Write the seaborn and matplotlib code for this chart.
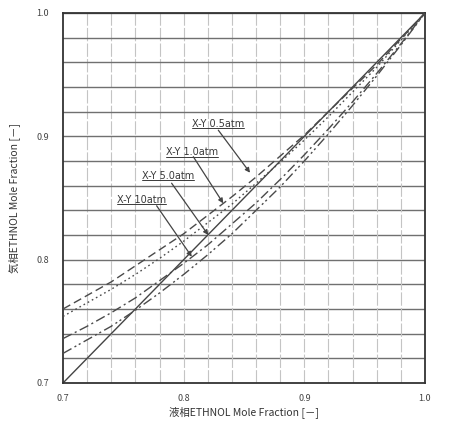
import matplotlib
matplotlib.use("Agg")
import matplotlib.pyplot as plt
import numpy as np
import pandas as pd
import seaborn as sns

# Liquid-phase ethanol mole fraction (x) and vapour-phase mole fraction (y) at four pressures
x_liquid = [0.70, 0.72, 0.74, 0.76, 0.78, 0.80, 0.82, 0.84, 0.86, 0.88, 0.90, 0.92, 0.94, 0.96, 0.98, 1.00]
y_05atm = [0.760, 0.771, 0.782, 0.795, 0.808, 0.821, 0.836, 0.851, 0.867, 0.884, 0.901, 0.920, 0.939, 0.958, 0.979, 1.000]
y_1atm = [0.754, 0.765, 0.776, 0.788, 0.801, 0.815, 0.830, 0.845, 0.862, 0.879, 0.897, 0.916, 0.936, 0.956, 0.978, 1.000]
y_5atm = [0.736, 0.746, 0.757, 0.769, 0.783, 0.797, 0.812, 0.829, 0.846, 0.865, 0.885, 0.906, 0.928, 0.951, 0.975, 1.000]
y_10atm = [0.724, 0.735, 0.746, 0.759, 0.773, 0.788, 0.804, 0.821, 0.840, 0.859, 0.880, 0.902, 0.925, 0.949, 0.974, 1.000]

series_labels = ["X-Y 0.5atm", "X-Y 1.0atm", "X-Y 5.0atm", "X-Y 10atm"]
series_values = [y_05atm, y_1atm, y_5atm, y_10atm]

# Label text position and arrow target for each curve (data coordinates)
label_xy = [(0.8067, 0.910), (0.785, 0.887), (0.7652, 0.868), (0.745, 0.8483)]
arrow_from = [(0.8287, 0.905), (0.808, 0.8835), (0.790, 0.862), (0.7776, 0.8437)]
arrow_to = [(0.855, 0.8705), (0.8328, 0.8457), (0.8204, 0.820), (0.8067, 0.8024)]

line_styles = [(0, (6, 3)), (0, (1.2, 2.2)), (0, (7, 2.5, 1.5, 2.5)), (0, (7, 2.5, 1.5, 2, 1.5, 2.5))]

sns.set_style("white")
plt.rcParams["font.family"] = ["Noto Sans CJK JP", "DejaVu Sans"]

W, H = 471, 425
fig = plt.figure(figsize=(W / 100, H / 100), dpi=100)
fig.patch.set_facecolor("white")
ax = fig.add_axes([63 / W, (H - 383) / H, 362 / W, 370 / H])

frames = []
for lab, vals in zip(series_labels, series_values):
    frames.append(pd.DataFrame({"x": x_liquid, "y": vals, "series": lab}))
df = pd.concat(frames, ignore_index=True)

# Grid: solid horizontal lines, lighter broken vertical lines
grid_vals = np.round(np.arange(0.72, 1.0, 0.02), 2)
for g in grid_vals:
    ax.axhline(g, color="#707070", lw=1.0, zorder=0)
    ax.axvline(g, color="#c4c4c4", lw=0.8, ls=(0, (12, 2)), zorder=0)

# y = x reference line
ax.plot([0.7, 1.0], [0.7, 1.0], color="#444444", lw=1.0, zorder=2)

for lab, ls in zip(series_labels, line_styles):
    sns.lineplot(data=df[df["series"] == lab], x="x", y="y", ax=ax,
                 color="#4a4a4a", lw=1.0, linestyle=ls, legend=False,
                 estimator=None, sort=True, zorder=3)

ax.set_xlim(0.7, 1.0)
ax.set_ylim(0.7, 1.0)

texts = []
for lab, pos, p0, p1 in zip(series_labels, label_xy, arrow_from, arrow_to):
    t = ax.text(pos[0], pos[1], lab, fontsize=7, color="#3a3a3a",
                ha="left", va="center", family=["DejaVu Sans"])
    texts.append(t)
    ax.annotate("", xy=p1, xytext=p0,
                arrowprops=dict(arrowstyle="-|>", color="#444444", lw=0.9,
                                mutation_scale=7, shrinkA=0, shrinkB=0))

# underline beneath each label, sized to the rendered text
fig.canvas.draw()
renderer = fig.canvas.get_renderer()
inv = ax.transData.inverted()
for t in texts:
    bb = t.get_window_extent(renderer)
    (x0, y0), (x1, _) = inv.transform([(bb.x0, bb.y0), (bb.x1, bb.y1)])
    ax.plot([x0, x1], [y0 + 0.0005, y0 + 0.0005], color="#3a3a3a", lw=0.7)

ax.set_xticks([0.7, 0.8, 0.9, 1.0])
ax.set_yticks([0.7, 0.8, 0.9, 1.0])
ax.set_xticklabels(["0.7", "0.8", "0.9", "1.0"])
ax.set_yticklabels(["0.7", "0.8", "0.9", "1.0"])
ax.tick_params(axis="both", length=0, labelsize=6.5, labelcolor="#444444")
ax.tick_params(axis="x", pad=8)
ax.tick_params(axis="y", pad=10)

ax.set_xlabel("液相ETHNOL Mole Fraction [－]", fontsize=7.5, color="#333333", labelpad=2)
ax.set_ylabel("気相ETHNOL Mole Fraction [－]", fontsize=7.5, color="#333333", labelpad=12)

for sp in ax.spines.values():
    sp.set_visible(True)
    sp.set_color("#333333")
    sp.set_linewidth(1.3)

fig.savefig("out.png", dpi=100, facecolor="white")
